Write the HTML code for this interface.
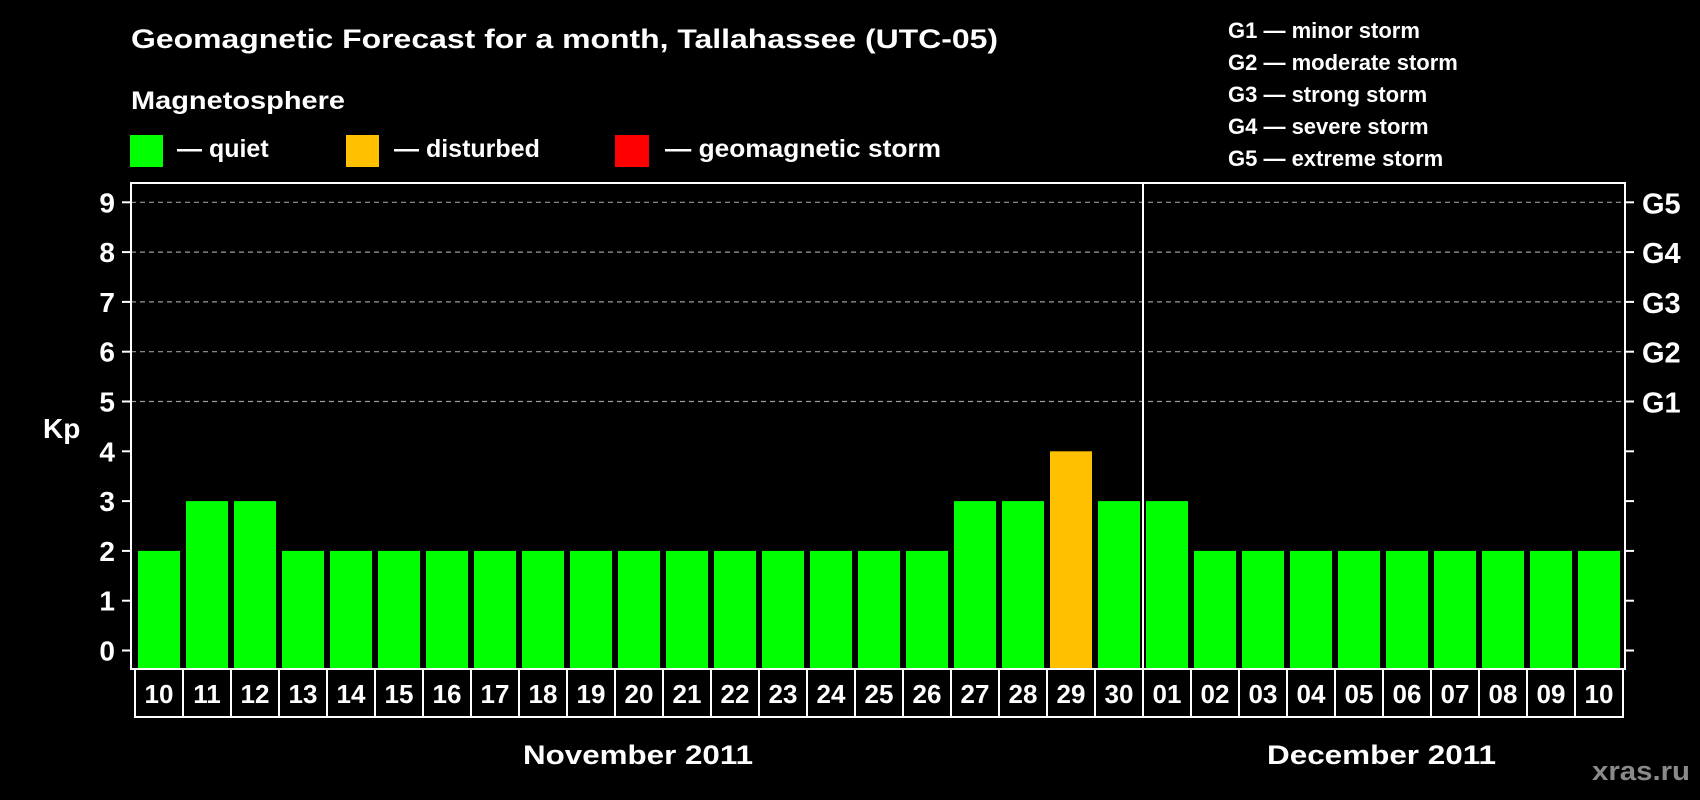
<!DOCTYPE html>
<html><head><meta charset="utf-8"><style>
html,body{margin:0;padding:0;background:#000;}
svg{display:block;font-family:"Liberation Sans",Arial,sans-serif;font-weight:bold;}
</style></head><body>
<svg id="chart" width="1700" height="800" viewBox="0 0 1700 800" xmlns="http://www.w3.org/2000/svg">
<rect x="0" y="0" width="1700" height="800" fill="#000"/>
<text x="131" y="48" fill="#fff" font-size="27" textLength="867" lengthAdjust="spacingAndGlyphs">Geomagnetic Forecast for a month, Tallahassee (UTC-05)</text>
<text x="131" y="109" fill="#fff" font-size="25" textLength="214" lengthAdjust="spacingAndGlyphs">Magnetosphere</text>
<g>
<rect x="130" y="135" width="33" height="32" fill="#00ff00"/>
<text x="177" y="157" fill="#fff" font-size="25">— quiet</text>
</g>
<g>
<rect x="346" y="135" width="33" height="32" fill="#ffc000"/>
<text x="394" y="157" fill="#fff" font-size="25">— disturbed</text>
</g>
<g>
<rect x="615" y="135" width="34" height="32" fill="#ff0000"/>
<text x="665" y="157" fill="#fff" font-size="25" textLength="276" lengthAdjust="spacingAndGlyphs">— geomagnetic storm</text>
</g>
<g fill="#fff" font-size="22">
<text x="1228" y="38">G1 — minor storm</text>
<text x="1228" y="70">G2 — moderate storm</text>
<text x="1228" y="102">G3 — strong storm</text>
<text x="1228" y="134">G4 — severe storm</text>
<text x="1228" y="166">G5 — extreme storm</text>
</g>
<text x="43" y="438" fill="#fff" font-size="28">Kp</text>
<g id="grid"></g>
<g id="bars"></g>
<g id="axes"></g>
<text x="523" y="764" fill="#fff" font-size="27" textLength="230" lengthAdjust="spacingAndGlyphs">November 2011</text>
<text x="1267" y="764" fill="#fff" font-size="27" textLength="229" lengthAdjust="spacingAndGlyphs">December 2011</text>
<text x="1592" y="780" fill="#8a8a8a" font-size="27" textLength="98" lengthAdjust="spacingAndGlyphs">xras.ru</text>
</svg>
<script>
const days = ["10","11","12","13","14","15","16","17","18","19","20","21","22","23","24","25","26","27","28","29","30","01","02","03","04","05","06","07","08","09","10"];
const kpValues = [2,3,3,2,2,2,2,2,2,2,2,2,2,2,2,2,2,3,3,4,3,3,2,2,2,2,2,2,2,2,2];
const yTicks = [0,1,2,3,4,5,6,7,8,9];
const gLabels = ["G1","G2","G3","G4","G5"];
const gLevels = [5,6,7,8,9];
const monthBreakIndex = 21;

const NS="http://www.w3.org/2000/svg";
const plotL=131, plotR=1625, plotT=183, plotB=669;
const slotL=135, slotW=(1623-135)/days.length;
const y0=650.5, unit=49.8;
function y(v){return y0-v*unit;}
function x(i){return slotL+i*slotW;}
function mk(tag,attrs,parent){const e=document.createElementNS(NS,tag);for(const k in attrs)e.setAttribute(k,attrs[k]);parent.appendChild(e);return e;}
const grid=document.getElementById('grid'), bars=document.getElementById('bars'), axes=document.getElementById('axes');

gLevels.forEach((v,i)=>{
  const l=mk('line',{x1:plotL,x2:plotR,y1:y(v),y2:y(v),stroke:'#9a9a9a','stroke-width':1.2,'stroke-dasharray':'5,4'},grid);
  
  
  const t=mk('text',{x:1642,y:y(v)+11,fill:'#fff','font-size':29},axes);
  t.textContent=gLabels[i];
  
  
});

kpValues.forEach((v,i)=>{
  const col = v>=5 ? '#ff0000' : (v>=4 ? '#ffc000' : '#00ff00');
  const r=mk('rect',{x:x(i)+3,y:y(v),width:slotW-6,height:plotB-y(v)-1,fill:col},bars);
  
  
});

const frame=mk('rect',{x:plotL,y:plotT,width:plotR-plotL,height:plotB-plotT,fill:'none',stroke:'#fff','stroke-width':2},axes);


const div=mk('line',{x1:x(monthBreakIndex),x2:x(monthBreakIndex),y1:plotT,y2:plotB,stroke:'#fff','stroke-width':2},axes);



yTicks.forEach(v=>{
  mk('line',{x1:122,x2:plotL,y1:y(v),y2:y(v),stroke:'#fff','stroke-width':2},axes);
  mk('line',{x1:plotR,x2:1634,y1:y(v),y2:y(v),stroke:'#fff','stroke-width':2},axes);
  const t=mk('text',{x:115,y:y(v)+10,fill:'#fff','font-size':28,'text-anchor':'end'},axes);
  t.textContent=v;
  
  
});

days.forEach((d,i)=>{
  const r=mk('rect',{x:x(i),y:plotB,width:slotW,height:48,fill:'none',stroke:'#fff','stroke-width':2},axes);
  
  
  const t=mk('text',{x:x(i)+slotW/2,y:703,fill:'#fff','font-size':26,'text-anchor':'middle'},axes);
  t.textContent=d;
  
  
});
</script>
</body></html>
